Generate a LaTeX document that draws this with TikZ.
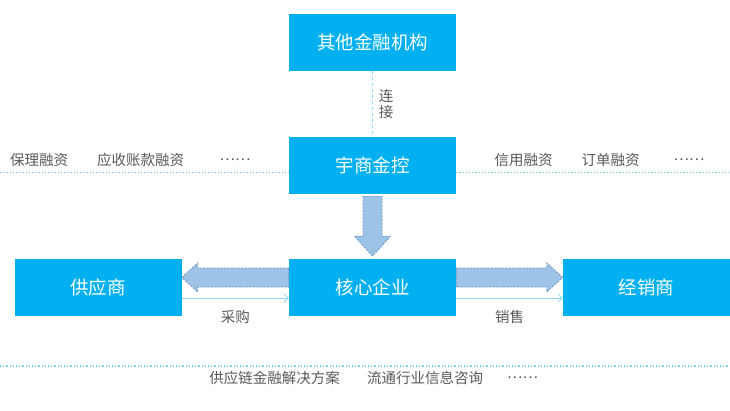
\documentclass[tikz,border=0pt]{standalone}
\usepackage{fontspec}
\setmainfont{Noto Sans CJK SC}
\usetikzlibrary{calc,positioning,arrows.meta}
\definecolor{boxblue}{HTML}{00B0F0}
\definecolor{fatblue}{HTML}{9DC3E6}
\definecolor{fatedge}{HTML}{7092C4}
\definecolor{lineblue}{HTML}{8ED8F8}
\definecolor{dotblue}{HTML}{7FD0EE}
\definecolor{labelgray}{HTML}{595959}
\tikzstyle{party} = [rectangle, minimum width=167pt, minimum height=57pt, fill=boxblue, text=white, font=\fontsize{18.5}{20}\selectfont, inner sep=0pt]
\tikzstyle{tag}   = [text=labelgray, font=\fontsize{14.5}{16}\selectfont, inner sep=0pt]
\tikzstyle{fat}   = [fill=fatblue, draw=fatedge, dash pattern=on 2pt off 1.5pt, line width=0.8pt]
\tikzstyle{flow}  = [lineblue, line width=0.8pt, -{Straight Barb[length=4pt,width=8pt]}]
\tikzstyle{sep}   = [dotblue, line width=1.2pt, dotted]

\begin{document}
\begin{tikzpicture}[x=1pt,y=-1pt]
        \useasboundingbox (0,0) rectangle (730,410);

        \node[party] (other) at (372.5,42.5) {其他金融机构};
        \node[party] (yushang) at (372.5,165.5) {宇商金控};
        \node[party] (core) at (372.5,287) {核心企业};
        \node[party] (supplier) at (98,287) {供应商};
        \node[party] (dealer) at (646.5,287) {经销商};

        \draw[lineblue, dashed, line width=0.6pt] (other.south) -- node[right=6pt, tag, align=center] {连\\接} (yushang.north);

        \node[tag] (baoli) at (39,160) {保理融资};
        \node[tag] (yingshou) at (140.5,160) {应收账款融资};
        \node[tag] (moreleft) at (235,160) {……};
        \node[tag] (xinyong) at (523.5,160) {信用融资};
        \node[tag] (dingdan) at (610.5,160) {订单融资};
        \node[tag] (moreright) at (689,160) {……};

        \coordinate (ml) at (0,172.5);
        \coordinate (mr) at (730,172.5);
        \draw[sep] (ml) -- (ml -| yushang.west);
        \draw[sep] (mr -| yushang.east) -- (mr);

        \draw[fat] ($(yushang.south)+(-9.5,2)$) -- ++(19,0) -- ++(0,40) -- ++(8.5,0) -- ++(-18,20) -- ++(-18,-20) -- ++(8.5,0) -- cycle;
        \draw[fat] ($(core.west)+(0,-19)$) -- ($(supplier.east)+(16,-19)$) -- ++(0,-5) -- ($(supplier.east)+(0,-9.5)$) -- ($(supplier.east)+(16,5)$) -- ++(0,-5) -- (core.west) -- cycle;
        \draw[fat] ($(core.east)+(0,-19)$) -- ($(dealer.west)+(-16,-19)$) -- ++(0,-5) -- ($(dealer.west)+(0,-9.5)$) -- ($(dealer.west)+(-16,5)$) -- ++(0,-5) -- (core.east) -- cycle;

        \draw[flow] ($(supplier.east)+(0,11)$) -- node[below=12pt, tag] {采购} ($(core.west)+(0,11)$);
        \draw[flow] ($(core.east)+(0,11)$) -- node[below=12pt, tag] {销售} ($(dealer.west)+(0,11)$);

        \coordinate (bl) at (0,366);
        \coordinate (br) at (730,366);
        \draw[sep] (bl) -- (br);

        \node[tag] (fangan) at (274.5,378) {供应链金融解决方案};
        \node[tag] (zixun) at (425,378) {流通行业信息咨询};
        \node[tag] (morebottom) at (522.5,378) {……};
    \end{tikzpicture}
\end{document}
